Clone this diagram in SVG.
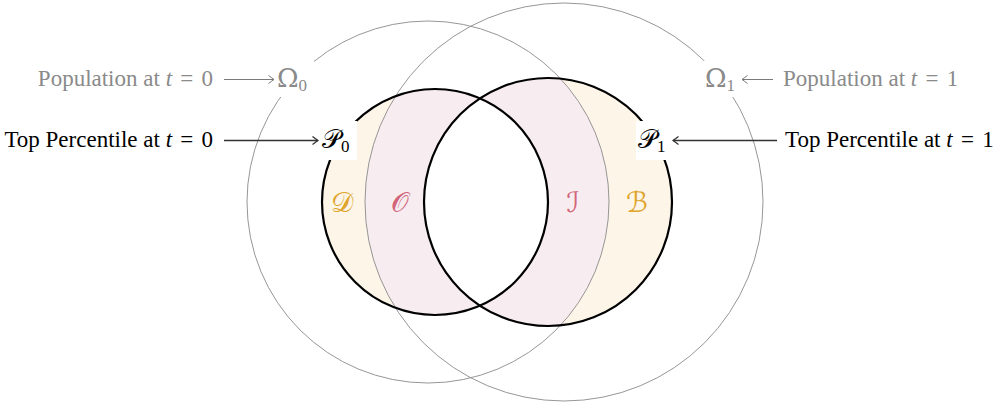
<svg xmlns="http://www.w3.org/2000/svg" width="1003" height="405" viewBox="0 0 1003 405">
<style>
.txt{font-family:"Liberation Serif","Times New Roman",serif;font-size:23px}
.gray{fill:#8a8a8a}
.blk{fill:#000}
.it{font-style:italic}
.node{font-family:"DejaVu Serif","Liberation Serif",serif;font-size:26px}
.sub{font-family:"Liberation Serif",serif;font-size:17px}
.omega{fill:none;stroke:#8a8a8a;stroke-width:0.9}
.pc{fill:none;stroke:#000;stroke-width:2.2}
.cream{fill:#fcf5e8}
.pink{fill:#f7edf0}
.region{font-family:"DejaVu Serif","DejaVu Sans",serif;font-size:28px;text-anchor:middle}
.gold{fill:#e0a52c}
.rose{fill:#d2647a}
.garrow{stroke:#7a7a7a;stroke-width:1;fill:none}
.barrow{stroke:#333;stroke-width:1.3;fill:none}
</style>
<defs>
<clipPath id="cO1"><circle cx="564" cy="202" r="199"/></clipPath>
<clipPath id="cO0"><circle cx="428" cy="202" r="181"/></clipPath>
<clipPath id="cP1"><circle cx="548" cy="202" r="124"/></clipPath>
<marker id="ahg" viewBox="-7 -5 8 10" refX="0" refY="0" markerWidth="8" markerHeight="10" orient="auto" markerUnits="userSpaceOnUse"><path d="M-5.5,-4 Q-1.5,-1 0,0 Q-1.5,1 -5.5,4" fill="none" stroke="#7a7a7a" stroke-width="1"/></marker>
<marker id="ahb" viewBox="-7 -5 8 10" refX="0" refY="0" markerWidth="8" markerHeight="10" orient="auto" markerUnits="userSpaceOnUse"><path d="M-5.5,-4 Q-1.5,-1 0,0 Q-1.5,1 -5.5,4" fill="none" stroke="#333" stroke-width="1.3"/></marker>
</defs>
<rect width="1003" height="405" fill="#fff"/>
<g id="fills">
<circle class="cream" cx="435" cy="202" r="113"/>
<circle class="cream" cx="548" cy="202" r="124"/>
<circle class="pink" cx="435" cy="202" r="113" clip-path="url(#cO1)"/>
<circle class="pink" cx="548" cy="202" r="124" clip-path="url(#cO0)"/>
<circle fill="#fff" cx="435" cy="202" r="113" clip-path="url(#cP1)"/>
</g>
<g id="omega0-circle"><circle class="omega" cx="428" cy="202" r="181"/></g>
<g id="omega1-circle"><circle class="omega" cx="564" cy="202" r="199"/></g>
<g id="p0-circle"><circle class="pc" cx="435" cy="202" r="113"/></g>
<g id="p1-circle"><circle class="pc" cx="548" cy="202" r="124"/></g>
<g id="region-D"><text class="region gold" x="342" y="212">𝒟</text></g>
<g id="region-O"><text class="region rose" x="400" y="212">𝒪</text></g>
<g id="region-I"><text class="region rose" x="573" y="212">ℐ</text></g>
<g id="region-B"><text class="region gold" x="637" y="212">ℬ</text></g>
<g id="omega0">
<rect x="274" y="61" width="40" height="36" fill="#fff"/>
<text class="node gray" x="277" y="87">Ω<tspan class="sub" dy="4">0</tspan></text>
</g>
<g id="omega1">
<rect x="702" y="61" width="38" height="36" fill="#fff"/>
<text class="node gray" x="705" y="87">Ω<tspan class="sub" dy="4">1</tspan></text>
</g>
<g id="p0">
<rect x="319" y="121" width="38" height="39" fill="#fff"/>
<text class="node blk" x="322" y="148">𝒫<tspan class="sub" dy="4">0</tspan></text>
</g>
<g id="p1">
<rect x="636" y="121" width="35" height="39" fill="#fff"/>
<text class="node blk" x="638" y="148">𝒫<tspan class="sub" dy="4">1</tspan></text>
</g>
<g id="label-pop0"><text class="txt gray" x="213" y="86" text-anchor="end" xml:space="preserve">Population at <tspan class="it">t</tspan> <tspan dx="2.5">=</tspan> <tspan dx="2.5">0</tspan></text></g>
<g id="label-top0"><text class="txt blk" x="213" y="147" text-anchor="end" xml:space="preserve">Top Percentile at <tspan class="it">t</tspan> <tspan dx="2.5">=</tspan> <tspan dx="2.5">0</tspan></text></g>
<g id="label-pop1"><text class="txt gray" x="783" y="86" xml:space="preserve">Population at <tspan class="it">t</tspan> <tspan dx="2.5">=</tspan> <tspan dx="2.5">1</tspan></text></g>
<g id="label-top1"><text class="txt blk" x="785" y="147" xml:space="preserve">Top Percentile at <tspan class="it">t</tspan> <tspan dx="2.5">=</tspan> <tspan dx="2.5">1</tspan></text></g>
<g id="connectors">
<line class="garrow" x1="224" y1="79.5" x2="274" y2="79.5" marker-end="url(#ahg)"/>
<line class="barrow" x1="224" y1="140.5" x2="318" y2="140.5" marker-end="url(#ahb)"/>
<line class="garrow" x1="773" y1="79.5" x2="742" y2="79.5" marker-end="url(#ahg)"/>
<line class="barrow" x1="777" y1="140.5" x2="673" y2="140.5" marker-end="url(#ahb)"/>
</g>
</svg>
